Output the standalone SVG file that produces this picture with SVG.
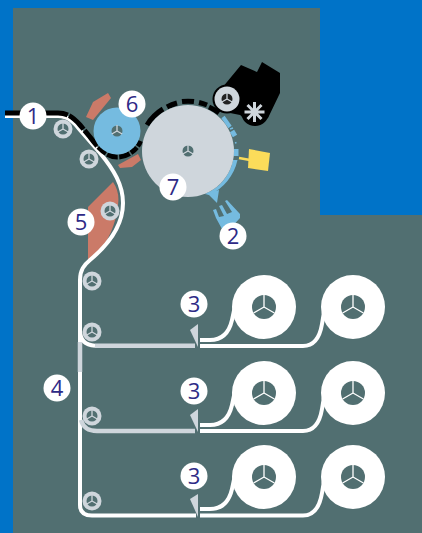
<svg xmlns="http://www.w3.org/2000/svg" width="422" height="533" viewBox="0 0 422 533">
<style>
.w{fill:none;stroke:#fff;stroke-width:4}
.g{fill:none;stroke:#cfd6dc;stroke-width:4.5}
.k{fill:none;stroke:#000;stroke-width:5}
.b{fill:none;stroke:#75bbe0}
.lab{font:400 22px "Open Sans","Liberation Sans",sans-serif;fill:#2e2a86;text-anchor:middle}
.c{fill:#fff}
.roll{fill:#cfd6dc}
.wedge{fill:#cfd6dc}
.red{fill:#cb7a68}
</style>
<defs>
<g id="hub"><circle r="5.5" fill="#516f71"/><path d="M0 0V-6M0 0L5.2 3M0 0L-5.2 3" stroke="#cfd6dc" stroke-width="1.3" fill="none"/></g>
<g id="idler"><circle r="9.500" class="roll"/><use href="#hub"/></g>
<g id="reel"><circle r="32" fill="#fff"/><circle r="12" fill="#516f71"/><path d="M0 0V-12M0 0L10.4 6M0 0L-10.4 6" stroke="#fff" stroke-width="1.3" fill="none"/></g>
</defs>
<rect width="422" height="533" fill="#0073c8"/>
<path d="M13 8H320V215H422V533H13Z" fill="#516f71"/>
<g id="dryer5"><path d="M113 182Q120 192 118 205Q114 240 88 264V207Z" class="red"/></g>
<g id="heaters"><path class="red" d="M86 117L93 102L108 93L111 98L93 120Z"/><path class="red" d="M118 165L138 154L141 160L132 167L120 168Z"/></g>
<g id="connectors">
<path class="w" d="M5 116H58C68 116 74 122 80 130L100 153C114 170 123 185 123 203C123 225 108 245 90 260C84 265 80 270 80 280V505Q80 515.500 92 515.500H196"/>
<path class="w" d="M80 330Q80 345 95 345.700"/>
<path class="g" d="M95 345.700H195"/>
<path class="g" d="M80 342V372" stroke-width="3.500"/>
<path class="g" d="M81 420Q84 431 97 431H195"/>
<path class="w" d="M200 340H210C222 340 229 333 232 320L235 306"/>
<path class="w" d="M200 346H303C315 346 320 336 322 324L325 306"/>
<path class="w" d="M200 425H210C222 425 229 418 232 405L235 391"/>
<path class="w" d="M200 431H303C315 431 320 421 322 409L325 391"/>
<path class="w" d="M200 509H210C222 509 229 502 232 489L235 475"/>
<path class="w" d="M200 515.500H303C315 515.500 320 505 322 493L325 475"/>
<path class="k" d="M5 113H58C68 113 74 118 80 125L90 137C98 148 107 157 117 157C128 157 137 150 141 140L145 129" stroke-dasharray="63 1.500 20 1.500 20 1.500 10 1.500 11 1.500 11 1.500 8 1.500 6 40"/>
<path class="k" d="M147 125A49.500 49.500 0 0 1 163 109" fill="none"/>
<path class="k" d="M167 107A49.500 49.500 0 0 1 177 103"/>
<path class="k" d="M182 101.500A49.500 49.500 0 0 1 194 101.500"/>
<path class="k" d="M199 102.500A49.500 49.500 0 0 1 207 105"/>
<path class="k" d="M209 107A49.500 49.500 0 0 1 219 113"/>
</g>
<g id="cleaner"><path d="M222 88L241 65L257 72L262 62L280 73V93L268 118L255 126L240 115L225 112Z" fill="#000"/><circle cx="255" cy="112" r="14" fill="#000"/><circle cx="227" cy="99" r="14.500" fill="#000"/>
<path d="M254.500 102V122M247.500 105L261.500 119M247.500 119L261.500 105M244.500 112H264.500" stroke="#cfd6dc" stroke-width="3" fill="none"/>
<circle cx="227" cy="99" r="12.500" fill="#cfd6dc"/><circle cx="227" cy="99" r="5.500" fill="#222"/><path d="M227 99V93M227 99L232.200 102M227 99L221.800 102" stroke="#cfd6dc" stroke-width="1.300" fill="none"/></g>
<g id="developer">
<path class="b" d="M223 117L230 127" stroke-width="4"/>
<path class="b" d="M230 129L233 128" stroke-width="1.500"/>
<path class="b" d="M232 131L235 136" stroke-width="5"/>
<path class="b" d="M235 143L236.500 142.500" stroke-width="1.500"/>
<path class="b" d="M236 149V156" stroke-width="5"/>
<path d="M237.500 160A50 50 0 0 1 209 195L205 194A46 46 0 0 0 233 160Z" fill="#75bbe0"/>
</g>
<g id="yellow"><path d="M239 158L250 160" stroke="#fbdc5a" stroke-width="2.500"/><path d="M249 149L270 153L268 171L248 168Z" fill="#fbdc5a"/></g>
<g id="drum7"><circle cx="188" cy="151" r="46" fill="#cfd6dc"/><use href="#hub" x="188" y="151"/></g>
<g id="toner"><path d="M207 193L219 190L217 203Z" fill="#75bbe0"/><path d="M213 210L216 209L219 217L224 216L219 206L222 205L227 214L232 212L225 201L227 200L240 214L240 218L227 232L222 229L216 218Z" fill="#75bbe0"/></g>
<g id="roller6"><circle cx="117" cy="131" r="23.500" fill="#75bbe0"/><use href="#hub" x="117" y="131"/></g>
<g id="idlers">
<use href="#idler" x="63" y="129"/><use href="#idler" x="89" y="159"/><use href="#idler" x="110" y="211"/><use href="#idler" x="92" y="281"/><use href="#idler" x="92" y="332"/><use href="#idler" x="92" y="416"/><use href="#idler" x="92" y="501"/>
</g>
<g id="reels">
<use href="#reel" x="264" y="307"/><use href="#reel" x="353" y="307"/>
<use href="#reel" x="264" y="393"/><use href="#reel" x="353" y="393"/>
<use href="#reel" x="264" y="477"/><use href="#reel" x="353" y="477"/>
</g>
<g id="wedges">
<path class="wedge" d="M190 330L198 324L198 347Z"/><path class="wedge" d="M190 415L198 409L198 432Z"/><path class="wedge" d="M190 499L198 494L198 517Z"/>
</g>
<g id="n1"><circle class="c" cx="33" cy="116" r="13.500"/><text class="lab" x="33" y="124">1</text></g>
<g id="n2"><circle class="c" cx="233" cy="236" r="13.500"/><text class="lab" x="233" y="244">2</text></g>
<g id="n3a"><circle class="c" cx="194" cy="304" r="13.500"/><text class="lab" x="194" y="312">3</text></g>
<g id="n3b"><circle class="c" cx="194" cy="391" r="13.500"/><text class="lab" x="194" y="399">3</text></g>
<g id="n3c"><circle class="c" cx="194" cy="476" r="13.500"/><text class="lab" x="194" y="484">3</text></g>
<g id="n4"><circle class="c" cx="57" cy="388" r="13.500"/><text class="lab" x="57" y="396">4</text></g>
<g id="n5"><circle class="c" cx="81" cy="222" r="13.500"/><text class="lab" x="81" y="230">5</text></g>
<g id="n6"><circle class="c" cx="132" cy="104" r="13.500"/><text class="lab" x="132" y="112">6</text></g>
<g id="n7"><circle class="c" cx="173" cy="187" r="13.500"/><text class="lab" x="173" y="195">7</text></g>
</svg>
